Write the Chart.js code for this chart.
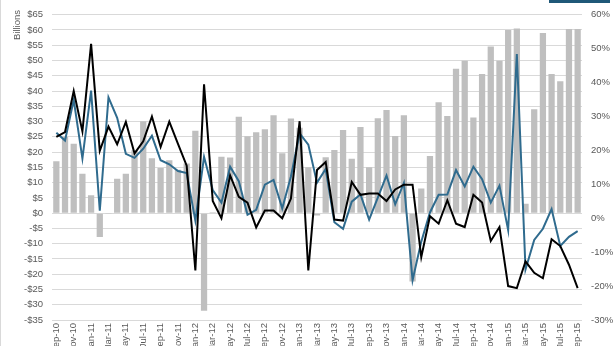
<!DOCTYPE html>
<html>
<head>
<meta charset="utf-8">
<script src="https://cdn.jsdelivr.net/npm/chart.js@4.4.1/dist/chart.umd.min.js"></script>
<style>
  html, body { margin: 0; padding: 0; background: #fff; }
  .wrap { position: relative; width: 616px; height: 346px; overflow: hidden; background: #fff; }
  .wrap canvas { position: absolute; left: 0; top: 0; }
  .edge { position: absolute; left: 0; top: 0; width: 1px; height: 346px; background: #d9d9d9; }
  .legend-tab { position: absolute; left: 549px; top: 0; width: 61px; height: 3px; background: #1f5878; }
  .ytitle {
    position: absolute; left: 16px; top: 25px;
    transform: translate(-50%, -50%) rotate(-90deg);
    font: 9.5px "Liberation Sans", Arial, sans-serif; color: #595959; white-space: nowrap;
  }
</style>
</head>
<body>
<div class="wrap">
  <canvas id="chart" width="616" height="380"></canvas>
  <div class="edge"></div>
  <div class="legend-tab"></div>
  <div class="ytitle">Billions</div>
</div>
<script>
const months = [
  "Sep-10", "Oct-10", "Nov-10", "Dec-10",
  "Jan-11", "Feb-11", "Mar-11", "Apr-11", "May-11", "Jun-11", "Jul-11", "Aug-11", "Sep-11", "Oct-11", "Nov-11", "Dec-11",
  "Jan-12", "Feb-12", "Mar-12", "Apr-12", "May-12", "Jun-12", "Jul-12", "Aug-12", "Sep-12", "Oct-12", "Nov-12", "Dec-12",
  "Jan-13", "Feb-13", "Mar-13", "Apr-13", "May-13", "Jun-13", "Jul-13", "Aug-13", "Sep-13", "Oct-13", "Nov-13", "Dec-13",
  "Jan-14", "Feb-14", "Mar-14", "Apr-14", "May-14", "Jun-14", "Jul-14", "Aug-14", "Sep-14", "Oct-14", "Nov-14", "Dec-14",
  "Jan-15", "Feb-15", "Mar-15", "Apr-15", "May-15", "Jun-15", "Jul-15", "Aug-15", "Sep-15"
];

// monthly amount, $ billions (left axis)
const amounts = [
  17.0, 25.0, 22.7, 12.9,
  5.9, -7.8, -0.3, 11.3, 12.9, 20.6, 30.1, 18.0, 14.8, 17.3, 14.2, 16.3,
  27.0, -32.0, 0.3, 18.5, 18.2, 31.6, 25.2, 26.5, 27.5, 32.1, 19.6, 31.0,
  28.0, 15.0, -0.8, 18.3, 20.7, 27.2, 17.8, 28.2, 15.0, 31.1, 33.8, 25.3,
  32.1, -22.4, 8.1, 18.7, 36.3, 31.8, 47.3, 49.9, 31.3, 45.6, 54.6, 49.9,
  60.0, 60.5, 3.1, 34.0, 59.0, 45.6, 43.2, 60.3, 60.3
];

// growth rates, % (right axis)
const blackPct = [
  24.0, 25.4, 37.5, 25.6,
  51.4, 19.9, 27.0, 21.8, 28.4, 19.1, 22.7, 30.0, 21.0, 28.5, 21.9, 15.5,
  -15.4, 39.5, 5.1, 0.0, 12.6, 6.3, 4.6, -2.7, 2.3, 2.3, 0.0, 5.8,
  28.6, -15.4, 14.2, 16.6, -0.4, -0.7, 10.7, 6.9, 7.3, 7.3, 5.1, 8.5,
  9.9, 9.9, -11.5, 0.6, -1.6, 5.3, -1.6, -2.6, 6.9, 4.6, -6.7, -2.6,
  -20.0, -20.6, -12.7, -16.1, -17.7, -6.2, -8.2, -13.7, -20.6
];

const bluePct = [
  25.2, 22.9, 34.9, 17.6,
  37.6, 2.2, 35.6, 29.6, 19.0, 17.8, 20.5, 24.3, 17.1, 15.9, 13.9, 13.3,
  -0.7, 18.1, 8.3, 4.6, 15.2, 10.9, 1.0, 2.5, 9.9, 11.3, 2.9, 12.3,
  25.0, 21.7, 10.5, 14.5, -1.2, -3.1, 4.9, 7.0, -0.4, 6.1, 12.6, 4.1,
  10.4, -18.3, -6.9, 1.7, 6.9, 7.0, 14.2, 9.4, 15.2, 11.5, 4.6, 9.6,
  -3.5, 48.4, -15.1, -6.4, -3.1, 2.7, -8.2, -5.5, -3.8
];

const tickFont = { family: "'Liberation Sans', Arial, sans-serif", size: 9.5 };
const tickColor = "#595959";

const ctx = document.getElementById("chart").getContext("2d");
new Chart(ctx, {
  type: "bar",
  data: {
    labels: months,
    datasets: [
      {
        type: "line",
        label: "Black",
        data: blackPct,
        yAxisID: "y1",
        borderColor: "#000000",
        borderWidth: 2,
        pointRadius: 0,
        tension: 0,
        order: 0,
      },
      {
        type: "line",
        label: "Blue",
        data: bluePct,
        yAxisID: "y1",
        borderColor: "#2f6b8e",
        borderWidth: 2,
        pointRadius: 0,
        tension: 0,
        order: 1,
      },
      {
        label: "Amount",
        data: amounts,
        yAxisID: "y",
        backgroundColor: "#bfbfbf",
        barPercentage: 0.72,
        categoryPercentage: 1,
        order: 2,
      },
    ],
  },
  options: {
    responsive: false,
    animation: false,
    events: [],
    layout: { padding: { top: 8, left: 0, right: 0, bottom: 0 } },
    plugins: { legend: { display: false }, tooltip: { enabled: false } },
    scales: {
      x: {
        grid: { display: false, drawTicks: false },
        border: { display: false },
        ticks: {
          autoSkip: false,
          minRotation: 90,
          maxRotation: 90,
          padding: 3,
          color: tickColor,
          font: tickFont,
          callback: function (value, index) {
            return index % 2 === 0 ? months[index] : "";
          },
        },
        afterFit: (scale) => { scale.height = 60; },
      },
      y: {
        position: "left",
        min: -35,
        max: 65,
        grid: { color: "#d9d9d9", drawTicks: false },
        border: { display: false },
        ticks: {
          stepSize: 5,
          padding: 9,
          color: tickColor,
          font: tickFont,
          callback: function (value) {
            return value < 0 ? "-$" + Math.abs(value) : "$" + value;
          },
        },
        afterFit: (scale) => { scale.width = 52; },
      },
      y1: {
        position: "right",
        min: -30,
        max: 60,
        grid: { display: false, drawTicks: false },
        border: { display: false },
        ticks: {
          stepSize: 10,
          padding: 9,
          color: tickColor,
          font: tickFont,
          callback: function (value) {
            return value + "%";
          },
        },
        afterFit: (scale) => { scale.width = 34; },
      },
    },
  },
});
</script>
</body>
</html>
